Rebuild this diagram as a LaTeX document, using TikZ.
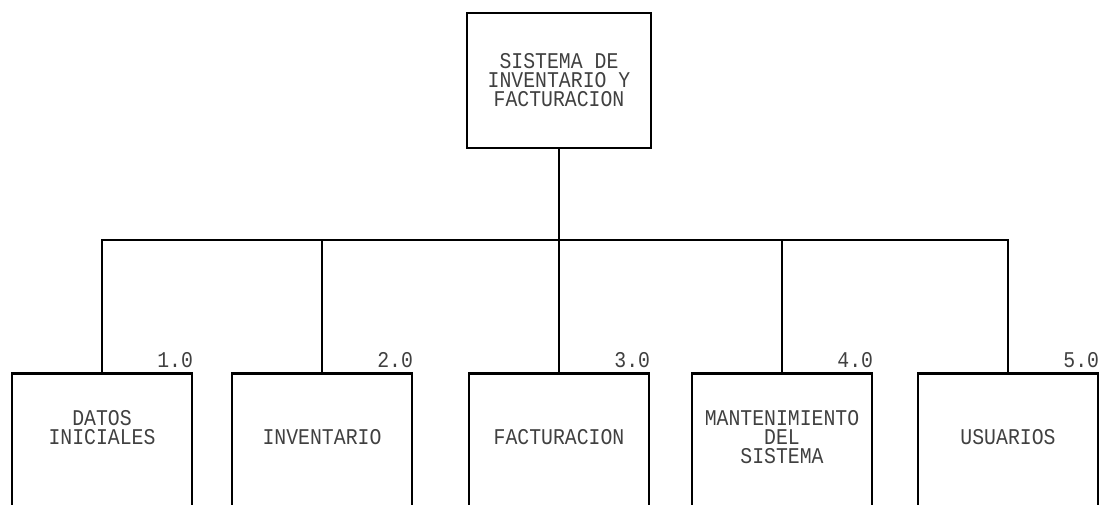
\documentclass[tikz,border=0pt]{standalone}
\usepackage{fontspec}
\newfontfamily\plotfont[FakeStretch=0.88]{Liberation Mono}
\usetikzlibrary{calc, positioning}

\begin{document}
\begin{tikzpicture}[x=0.025cm, y=-0.025cm,
    every node/.style={font=\plotfont\fontsize{16}{13.5}\selectfont, text=black!75},
    topbox/.style={draw=black, line width=1.8pt, minimum width=4.6cm, minimum height=3.375cm, inner sep=0pt, align=center},
    modbox/.style={draw=black, line width=1.8pt, minimum width=4.5cm, minimum height=4cm, inner sep=0pt, anchor=north},
    modtext/.style={align=center, inner sep=0pt},
    modnum/.style={anchor=south east, inner xsep=0pt, inner ysep=3pt},
    conn/.style={line width=0.9pt}]

    % page frame (bottom boxes run off the lower edge)
    \path[use as bounding box, clip] (0,0) rectangle (1102,505);

    % top box
    \node[topbox] (sys) at (559,80.5) {SISTEMA DE\\INVENTARIO Y\\FACTURACION};

    % the five modules: x / name / number / text y / text
    \foreach \x/\name/\num/\ty/\txt in {
        102/datos/1.0/428/{DATOS\\INICIALES},
        322/inv/2.0/437/{INVENTARIO},
        559/fact/3.0/437/{FACTURACION},
        782/mant/4.0/437/{MANTENIMIENTO\\DEL\\SISTEMA},
        1008/usr/5.0/437/{USUARIOS}} {
        \node[modbox] (\name) at (\x,372) {};
        \node[modtext] (\name-txt) at (\x,\ty) {\txt};
        \node[modnum] (\name-num) at (\name.north east) {\num};
    }

    % connectors
    \coordinate (bus) at (559,240);
    \draw[conn] (sys.south) -- (bus);
    \draw[conn] (datos.north) |- (bus) -| (usr.north);
    \foreach \name in {inv, fact, mant}
        \draw[conn] (\name.north) -- (\name.north |- bus);
\end{tikzpicture}
\end{document}
